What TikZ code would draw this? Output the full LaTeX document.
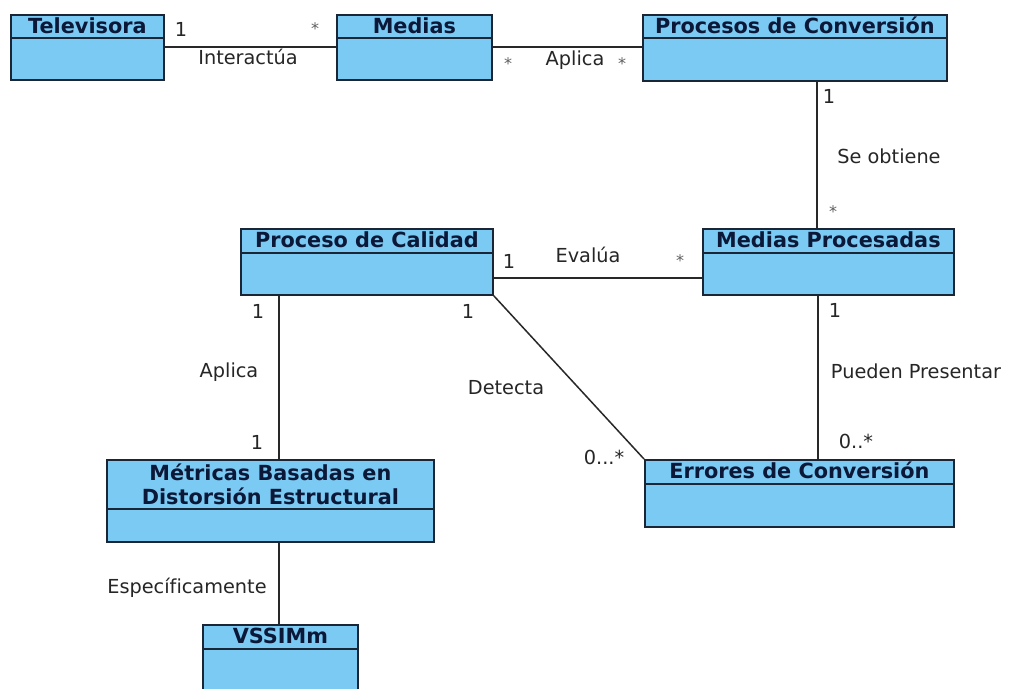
\documentclass[tikz,border=0pt]{standalone}
\usepackage{fontspec}
\setmainfont[Ligatures=NoCommon]{DejaVu Sans}
\definecolor{clsfill}{RGB}{122,202,243}
\definecolor{clsdraw}{RGB}{26,38,54}
\definecolor{clstext}{RGB}{12,24,56}
\definecolor{lbltext}{RGB}{38,38,38}
\definecolor{startext}{RGB}{95,95,95}
\definecolor{assocline}{RGB}{40,40,40}

\tikzset{
  clsbox/.style={draw=clsdraw, fill=clsfill, line width=1.8pt, inner sep=0pt},
  clsrule/.style={draw=clsdraw, line width=1.6pt},
  clstitle/.style={text=clstext, font=\fontsize{20.8}{24}\selectfont\bfseries,
                   inner sep=0pt, align=center},
  assoc/.style={draw=assocline, line width=1.5pt},
  lbl/.style={text=lbltext, font=\fontsize{19.3}{22}\selectfont, inner sep=0pt,
              text height=13.9pt, text depth=0pt},
  starlbl/.style={lbl, text=startext, font=\fontsize{16}{20}\selectfont},
}

% \umlclass{name}{left}{top}{width}{height}{header height}{title}
\newcommand\umlclass[7]{%
  \node[clsbox, minimum width=#4pt, minimum height=#5pt, anchor=north west] (#1) at (#2,-#3) {};
  \draw[clsrule] ([yshift=-#6pt]#1.north west) -- ([yshift=-#6pt]#1.north east);
  \node[clstitle, text height=14.9pt, text depth=0pt] (#1-t) at ([yshift=-#6pt/2]#1.north) {#7};
}

\begin{document}
\begin{tikzpicture}[x=1pt,y=1pt]
  \fill[white] (0,0) rectangle (1011,-688);
  \useasboundingbox (0,0) rectangle (1011,-688);

  % classes
  \umlclass{tv}{10}{14}{153}{65}{24}{Televisora}
  \umlclass{md}{336}{14}{155}{65}{24}{Medias}
  \umlclass{pc}{642}{14}{304}{66}{24}{Procesos de Conversión}
  \umlclass{pq}{240}{228}{252}{66}{25}{Proceso de Calidad}
  \umlclass{mp}{702}{228}{251}{66}{25}{Medias Procesadas}
  \umlclass{er}{644}{459}{309}{67}{25}{Errores de Conversión}
  \umlclass{vs}{202}{624}{155}{72}{25}{VSSIMm}

  % two-line class title
  \node[clsbox, minimum width=327pt, minimum height=82pt, anchor=north west] (me) at (106,-459) {};
  \draw[clsrule] ([yshift=-50pt]me.north west) -- ([yshift=-50pt]me.north east);
  \node[clstitle] (me-t) at ([yshift=-25pt]me.north) {Métricas Basadas en\\Distorsión Estructural};

  % associations
  \draw[assoc] ([yshift=-33pt]tv.north east) -- ([yshift=-33pt]md.north west);
  \draw[assoc] ([yshift=-33pt]md.north east) -- ([yshift=-33pt]pc.north west);
  \draw[assoc] ([xshift=175pt]pc.south west) -- ([xshift=115pt]mp.north west);
  \draw[assoc] ([yshift=-50pt]pq.north east) -- ([yshift=-50pt]mp.north west);
  \draw[assoc] ([xshift=39pt]pq.south west) -- ([xshift=173pt]me.north west);
  \draw[assoc] ([xshift=173pt]me.south west) -- ([xshift=77pt]vs.north west);
  \draw[assoc] (pq.south east) -- (er.north west);
  \draw[assoc] ([xshift=116pt]mp.south west) -- ([xshift=174pt]er.north west);

  % association names and multiplicities
  \node[lbl]     (l1)  at (181,-30)  {1};
  \node[starlbl] (l2)  at (315,-28)  {*};
  \node[lbl]     (l3)  at (248,-58)  {Interactúa};
  \node[starlbl] (l4)  at (508,-63)  {*};
  \node[lbl]     (l5)  at (575,-59)  {Aplica};
  \node[starlbl] (l6)  at (622,-63)  {*};
  \node[lbl]     (l7)  at (829,-97)  {1};
  \node[lbl]     (l8)  at (889,-157) {Se obtiene};
  \node[starlbl] (l9)  at (833,-211) {*};
  \node[lbl]     (l10) at (509,-262) {1};
  \node[lbl]     (l11) at (588,-256) {Evalúa};
  \node[starlbl] (l12) at (680,-260) {*};
  \node[lbl]     (l13) at (258,-312) {1};
  \node[lbl]     (l14) at (468,-312) {1};
  \node[lbl]     (l15) at (229,-371) {Aplica};
  \node[lbl]     (l16) at (257,-443) {1};
  \node[lbl]     (l17) at (506,-388) {Detecta};
  \node[lbl]     (l18) at (604,-458) {0...*};
  \node[lbl]     (l19) at (835,-311) {1};
  \node[lbl]     (l20) at (916,-372) {Pueden Presentar};
  \node[lbl]     (l21) at (856,-442) {0..*};
  \node[lbl]     (l22) at (187,-587) {Específicamente};
\end{tikzpicture}
\end{document}
